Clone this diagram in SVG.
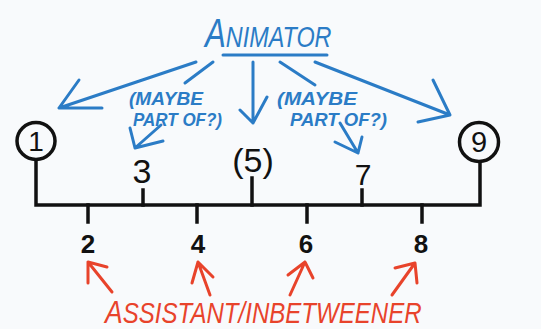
<svg xmlns="http://www.w3.org/2000/svg" width="541" height="329" viewBox="0 0 541 329">
<style>
.bl{fill:none;stroke:#2b7cc6;stroke-width:3;stroke-linecap:round;stroke-linejoin:round}
.rd{fill:none;stroke:#e8432b;stroke-width:3;stroke-linecap:round;stroke-linejoin:round}
.bk{fill:none;stroke:#111;stroke-width:3.5;stroke-linecap:square;stroke-linejoin:miter}
.bt{fill:#2b7cc6;font-family:"Liberation Sans",Arial,sans-serif;font-style:italic}
.mb{font-size:19px;font-weight:bold}
.rt{fill:#e8432b;font-family:"Liberation Sans",Arial,sans-serif;font-style:italic}
.nt{fill:#111;font-family:"Liberation Sans",Arial,sans-serif;text-anchor:middle}
</style>
<rect width="541" height="329" fill="#f8fafc"/>
<g id="animator">
<text class="bt" transform="translate(205 47) scale(0.78 1)" x="0" y="0" font-size="30"><tspan font-size="40">A</tspan>NIMATOR</text>
<path class="bl" d="M223 55 L327 55"/>
</g>
<g id="maybe-left">
<text class="bt mb" x="129" y="105" textLength="74" lengthAdjust="spacingAndGlyphs">(MAYBE</text>
<text class="bt mb" x="133" y="126" textLength="89" lengthAdjust="spacingAndGlyphs">PART OF?)</text>
</g>
<g id="maybe-right">
<text class="bt mb" x="277" y="105" textLength="80" lengthAdjust="spacingAndGlyphs">(MAYBE</text>
<text class="bt mb" x="290" y="126" textLength="97" lengthAdjust="spacingAndGlyphs">PART OF?)</text>
</g>
<g id="key1">
<ellipse cx="36" cy="141" rx="19" ry="18.5" fill="none" stroke="#111" stroke-width="3.5"/>
<text class="nt" x="36" y="151" font-size="28">1</text>
</g>
<g id="key9">
<circle cx="479" cy="142" r="19.5" fill="none" stroke="#111" stroke-width="3.5"/>
<text class="nt" x="479" y="152" font-size="29">9</text>
</g>
<g id="n3"><text class="nt" x="142" y="183" font-size="34">3</text></g>
<g id="n5"><text class="nt" x="253" y="172" font-size="34">(5)</text></g>
<g id="n7"><text class="nt" x="363" y="185" font-size="30">7</text></g>
<g id="n2"><text class="nt" x="88" y="253" font-size="26" font-weight="bold">2</text></g>
<g id="n4"><text class="nt" x="198" y="253" font-size="26" font-weight="bold">4</text></g>
<g id="n6"><text class="nt" x="306" y="253" font-size="26" font-weight="bold">6</text></g>
<g id="n8"><text class="nt" x="421" y="253" font-size="26" font-weight="bold">8</text></g>
<g id="assistant">
<text class="rt" transform="translate(105 323) scale(0.83 1)" x="0" y="0" font-size="29"><tspan font-size="32">A</tspan>SSISTANT/INBETWEENER</text>
</g>
<g id="connectors">
<path class="bk" d="M36 160 L36 205 L480 205 L480 162"/>
<path class="bk" d="M143 190 L143 205 M252 178 L252 205 M362 190 L362 205"/>
<path class="bk" d="M88 205 L88 222 M197 205 L197 222 M307 205 L307 222 M422 205 L422 222"/>
<path class="bl" d="M196 62 L59 108 M79 80 L59 108 L102 108"/>
<path class="bl" d="M213 62 L185 83"/>
<path class="bl" d="M161 125 L135 148 M130 128 L135 148 L163 141"/>
<path class="bl" d="M253 62 L253 123 M240 110 L253 123 L267 97"/>
<path class="bl" d="M280 62 L315 85"/>
<path class="bl" d="M340 123 L358 153 M335 142 L358 153 L362 137"/>
<path class="bl" d="M315 62 L450 115 M433 80 L450 115 L418 122"/>
<path class="rd" d="M112 292 L88 262 M88 283 L88 262 L107 267"/>
<path class="rd" d="M210 295 L198 262 M192 283 L198 262 L213 277"/>
<path class="rd" d="M290 295 L305 262 M288 275 L305 262 L313 278"/>
<path class="rd" d="M392 295 L415 263 M395 268 L415 263 L417 283"/>
</g>
</svg>
